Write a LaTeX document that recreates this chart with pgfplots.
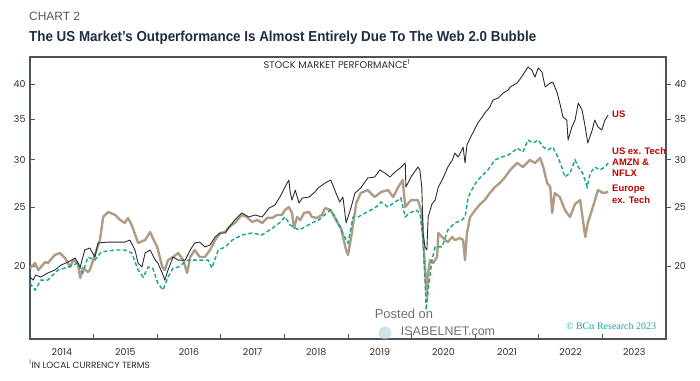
\documentclass[border=0pt]{standalone}
\usepackage{fontspec}
\setmainfont{Liberation Sans}
\newfontfamily\pop{Poppins}
\newfontfamily\lserif{Liberation Serif}
\usepackage{graphicx}
\usepackage{pgfplots}
\pgfplotsset{compat=1.18}
\definecolor{axisgray}{HTML}{4A5560}
\definecolor{labelgray}{HTML}{2E2E2E}
\definecolor{navy}{HTML}{1C2E40}
\definecolor{chartgray}{HTML}{555555}
\definecolor{usline}{HTML}{2A2E33}
\definecolor{tealline}{HTML}{17A589}
\definecolor{tanline}{HTML}{B09C84}
\definecolor{redlab}{HTML}{C00000}
\definecolor{bcateal}{HTML}{1AA3A0}
\definecolor{wm}{HTML}{707070}

\pgfplotstableread{
x y
2014.00 19.18
2014.05 18.96
2014.09 19.33
2014.17 19.18
2014.28 19.48
2014.39 19.70
2014.49 20.08
2014.60 20.31
2014.71 20.62
2014.79 19.93
2014.86 21.26
2014.94 21.42
2015.02 20.70
2015.07 21.84
2015.23 21.91
2015.38 21.91
2015.49 21.91
2015.57 22.08
2015.65 21.26
2015.70 20.23
2015.76 19.93
2015.81 21.02
2015.89 21.26
2015.97 20.46
2016.01 20.23
2016.08 19.48
2016.12 18.96
2016.17 19.70
2016.25 20.70
2016.33 20.46
2016.44 20.46
2016.52 21.26
2016.59 21.84
2016.67 21.91
2016.75 21.51
2016.83 21.67
2016.91 22.34
2016.99 22.68
2017.07 22.68
2017.13 23.20
2017.22 23.83
2017.33 24.48
2017.44 24.11
2017.54 24.29
2017.65 24.11
2017.76 24.94
2017.85 25.23
2017.93 26.01
2018.01 27.02
2018.07 27.75
2018.09 26.51
2018.12 25.71
2018.17 26.71
2018.23 25.42
2018.28 25.91
2018.39 26.01
2018.48 26.51
2018.53 26.92
2018.64 27.44
2018.73 27.75
2018.81 26.41
2018.87 25.52
2018.92 26.01
2018.97 23.56
2019.05 25.04
2019.11 26.41
2019.20 26.92
2019.31 27.96
2019.42 28.07
2019.50 28.83
2019.58 28.50
2019.66 28.07
2019.74 28.61
2019.82 29.05
2019.90 29.61
2019.91 27.02
2019.99 28.07
2020.10 29.16
2020.13 28.83
2020.16 27.02
2020.18 22.68
2020.21 21.51
2020.24 21.26
2020.26 24.11
2020.32 25.33
2020.37 25.71
2020.42 27.02
2020.48 27.75
2020.53 28.50
2020.57 29.16
2020.64 29.95
2020.68 30.75
2020.73 30.29
2020.79 31.11
2020.81 31.47
2020.84 29.61
2020.87 31.71
2020.92 32.56
2020.97 33.32
2021.04 34.48
2021.11 35.27
2021.15 35.81
2021.23 36.64
2021.28 37.63
2021.36 37.92
2021.44 38.65
2021.52 39.10
2021.55 39.55
2021.66 40.15
2021.75 41.39
2021.83 42.68
2021.89 42.19
2021.94 41.07
2021.99 42.52
2022.05 41.87
2022.10 39.55
2022.18 40.15
2022.22 40.30
2022.29 38.65
2022.33 37.20
2022.38 35.27
2022.44 34.87
2022.46 32.32
2022.52 33.96
2022.57 34.87
2022.62 37.20
2022.68 36.23
2022.73 33.96
2022.77 31.95
2022.84 33.57
2022.88 34.87
2022.93 33.96
2022.99 33.57
2023.04 34.87
2023.09 35.54
}\usdata

\pgfplotstableread{
x y
2014.00 18.74
2014.08 18.25
2014.17 18.96
2014.28 18.96
2014.44 19.70
2014.60 19.93
2014.75 20.23
2014.83 19.48
2014.91 20.70
2015.02 20.46
2015.12 21.10
2015.34 21.26
2015.49 21.26
2015.60 21.02
2015.70 19.70
2015.78 19.18
2015.86 19.93
2015.93 19.85
2016.01 18.74
2016.09 18.25
2016.17 19.18
2016.25 19.85
2016.33 19.93
2016.48 20.46
2016.64 20.46
2016.80 20.46
2016.86 19.85
2016.96 21.26
2017.07 21.51
2017.18 22.08
2017.33 22.51
2017.49 22.68
2017.65 22.51
2017.81 23.11
2017.92 23.56
2018.01 24.11
2018.09 23.38
2018.23 22.94
2018.32 23.20
2018.43 23.56
2018.54 23.83
2018.72 24.75
2018.80 24.11
2018.87 23.20
2018.95 22.34
2019.00 21.84
2019.08 24.11
2019.16 24.11
2019.27 24.48
2019.36 24.75
2019.44 25.04
2019.52 25.52
2019.63 25.04
2019.71 25.42
2019.79 25.71
2019.83 25.91
2019.90 24.11
2019.97 24.48
2020.07 24.75
2020.13 24.48
2020.18 22.08
2020.21 18.96
2020.23 16.91
2020.26 18.25
2020.32 20.46
2020.37 21.51
2020.48 21.51
2020.57 22.94
2020.68 23.56
2020.79 23.83
2020.84 24.11
2020.89 26.01
2020.97 27.02
2021.04 27.75
2021.12 28.28
2021.20 28.83
2021.31 29.95
2021.42 30.29
2021.52 30.52
2021.63 31.11
2021.66 31.35
2021.75 30.87
2021.83 32.32
2021.91 31.95
2021.99 32.32
2022.07 31.47
2022.14 31.11
2022.22 31.47
2022.30 30.29
2022.36 29.16
2022.41 28.07
2022.49 28.50
2022.57 29.95
2022.62 29.16
2022.69 28.50
2022.76 27.02
2022.81 28.50
2022.88 29.16
2022.96 28.83
2023.04 29.16
2023.09 29.61
}\tealdata

\pgfplotstableread{
x y
2014.00 19.85
2014.08 20.23
2014.13 19.70
2014.24 20.31
2014.28 20.23
2014.39 20.86
2014.47 21.02
2014.55 20.62
2014.63 19.93
2014.68 20.46
2014.75 20.23
2014.79 19.11
2014.83 19.85
2014.91 19.55
2014.94 19.70
2015.02 20.86
2015.10 22.08
2015.15 24.11
2015.23 24.57
2015.34 24.29
2015.42 23.83
2015.49 23.56
2015.54 24.02
2015.60 23.38
2015.70 21.84
2015.81 22.08
2015.89 22.77
2015.93 22.25
2016.00 21.51
2016.08 19.93
2016.12 19.70
2016.17 20.46
2016.25 20.70
2016.33 21.02
2016.41 20.46
2016.47 19.48
2016.52 20.70
2016.59 21.26
2016.67 20.70
2016.75 20.70
2016.83 21.26
2016.91 22.08
2016.99 22.68
2017.07 22.77
2017.13 23.20
2017.22 23.56
2017.33 24.29
2017.41 24.11
2017.49 23.65
2017.57 23.83
2017.65 23.56
2017.73 24.02
2017.81 24.02
2017.88 24.29
2017.96 24.29
2018.01 24.75
2018.07 25.04
2018.12 24.48
2018.15 23.11
2018.20 24.11
2018.25 23.83
2018.31 24.48
2018.39 24.57
2018.43 24.11
2018.51 24.02
2018.59 24.29
2018.64 24.94
2018.73 24.75
2018.81 23.83
2018.89 23.11
2018.97 21.26
2019.00 20.86
2019.05 22.34
2019.13 25.42
2019.20 26.41
2019.31 26.71
2019.42 26.01
2019.52 26.51
2019.63 26.71
2019.71 26.01
2019.79 27.02
2019.86 27.75
2019.90 25.04
2019.99 25.71
2020.10 25.71
2020.16 24.48
2020.18 22.34
2020.21 19.93
2020.24 17.77
2020.26 19.48
2020.29 20.46
2020.34 20.23
2020.40 20.70
2020.42 22.68
2020.48 22.34
2020.53 22.08
2020.57 21.91
2020.64 22.34
2020.68 22.08
2020.76 22.25
2020.81 22.08
2020.84 20.46
2020.87 22.68
2020.92 24.11
2021.00 24.75
2021.08 25.33
2021.15 25.71
2021.23 26.41
2021.31 27.02
2021.39 27.44
2021.47 28.07
2021.55 28.83
2021.66 29.61
2021.75 29.16
2021.86 29.95
2021.94 29.61
2022.02 30.18
2022.07 29.16
2022.13 27.44
2022.18 27.02
2022.21 24.48
2022.25 26.41
2022.33 26.01
2022.41 24.75
2022.49 24.11
2022.57 25.33
2022.65 25.71
2022.73 22.34
2022.77 23.56
2022.85 25.04
2022.93 26.71
2023.01 26.41
2023.09 26.51
}\eurodata

\begin{document}
\begin{tikzpicture}[x=1bp,y=1bp]
\useasboundingbox (0,0) rectangle (700,380);

% titles
\node[anchor=west, inner sep=0, text=chartgray, font=\fontsize{12}{14}\selectfont] at (29,364) {CHART 2};
\node[anchor=west, inner sep=0, text=navy] at (29,342)
  {\resizebox{507bp}{\height}{\fontsize{14.5}{17}\selectfont\bfseries The US Market’s Outperformance Is Almost Entirely Due To The Web 2.0 Bubble}};

\begin{axis}[
  at={(30bp,41bp)}, anchor=south west, scale only axis,
  width=636bp, height=282bp,
  xmin=2014, xmax=2024,
  ymode=log, ymin=15.15, ymax=44.33,
  xtick={2015,2016,2017,2018,2019,2020,2021,2022,2023},
  xticklabels={},
  extra x ticks={2014.5,2015.5,2016.5,2017.5,2018.5,2019.5,2020.5,2021.5,2022.5,2023.5},
  extra x tick labels={2014,2015,2016,2017,2018,2019,2020,2021,2022,2023},
  extra x tick style={major tick length=0pt},
  xtick pos=bottom,
  ytick={20,25,30,35,40},
  yticklabels={20,25,30,35,40},
  ytick pos=left,
  tick align=inside,
  major tick length=5bp,
  minor tick num=0,
  tick style={color=axisgray, line width=0.9bp},
  axis line style={color=axisgray, line width=1.1bp},
  ticklabel style={font=\pop\fontsize{9.5}{11}\selectfont, text=labelgray},
  xticklabel style={yshift=-6bp},
  yticklabel style={xshift=-1bp},
  clip=true,
]
\addplot[tanline, line width=2.4bp, line join=round] table[x=x,y=y] {\eurodata};
\addplot[tealline, line width=1.4bp, dash pattern=on 4bp off 2.5bp] table[x=x,y=y] {\tealdata};
\addplot[usline, line width=0.9bp, line join=round] table[x=x,y=y] {\usdata};
\end{axis}

\begin{axis}[
  at={(30bp,41bp)}, anchor=south west, scale only axis,
  width=636bp, height=282bp,
  xmin=2014, xmax=2024,
  ymode=log, ymin=15.15, ymax=44.33,
  xtick=\empty,
  ytick={20,25,30,35,40},
  yticklabels={20,25,30,35,40},
  ytick pos=right, yticklabel pos=right,
  tick align=outside,
  major tick length=5bp,
  tick style={color=axisgray, line width=0.9bp},
  axis line style={draw=none},
  ticklabel style={font=\pop\fontsize{9.5}{11}\selectfont, text=labelgray},
]
\end{axis}

% inner title
\node[text=labelgray, font=\pop\fontsize{9.8}{11}\selectfont, inner sep=0] at (337,316) {STOCK MARKET PERFORMANCE\textsuperscript{1}};

% series labels
\begin{scope}[every node/.style={anchor=west, inner sep=0, text=redlab, font=\fontsize{9.5}{11}\selectfont\bfseries}]
\node at (612,266) {US};
\node at (612,229) {US ex. Tech};
\node at (612,218) {AMZN \&};
\node at (612,207) {NFLX};
\node at (612,191) {Europe};
\node at (612,180) {ex. Tech};
\end{scope}

% copyright
\node[anchor=center, inner sep=0, text=bcateal, font=\lserif\fontsize{10}{12}\selectfont] at (611,54) {© BCα Research 2023};

% watermark
\node[anchor=center, inner sep=0, text=wm, font=\fontsize{13}{15}\selectfont] at (404,66) {Posted on};
\node[anchor=center, inner sep=0, text=wm, font=\fontsize{12.5}{14}\selectfont] at (448,49) {ISABELNET.com};
\fill[cyan!40!gray!50, opacity=0.6] (385,47) circle (6.5);

% footnote
\node[anchor=west, inner sep=0, text=labelgray, font=\pop\fontsize{9}{11}\selectfont] at (29,16) {\textsuperscript{1}IN LOCAL CURRENCY TERMS};
\end{tikzpicture}
\end{document}
